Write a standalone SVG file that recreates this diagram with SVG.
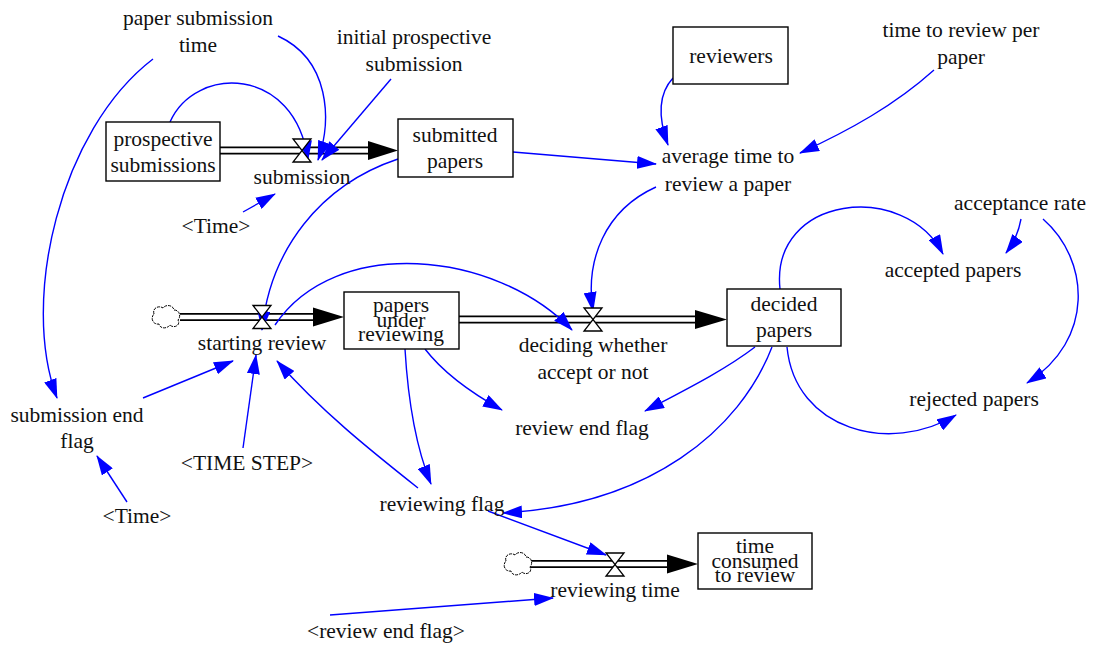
<svg xmlns="http://www.w3.org/2000/svg" xmlns:xlink="http://www.w3.org/1999/xlink" width="1094" height="645" viewBox="0 0 1094 645" font-family="'Liberation Serif', 'DejaVu Serif', serif">
<style>
text{font-family:'Liberation Serif','DejaVu Serif',serif;font-size:21.5px;fill:#111;text-anchor:middle}
.box{fill:#fff;stroke:#000;stroke-width:1.4}
.lk{fill:none;stroke:#0000ff;stroke-width:1.4;marker-end:url(#ah)}
.po{fill:none;stroke:#000;stroke-width:8}
.pi{fill:none;stroke:#fff;stroke-width:4.5}
.fh{fill:#000}
.valve{fill:#fff;stroke:#000;stroke-width:1.3}
.cloud{fill:#fff;stroke:#000;stroke-width:1;stroke-dasharray:3 1}
</style>
<defs>
<marker id="ah" markerUnits="userSpaceOnUse" markerWidth="20" markerHeight="13" refX="19" refY="6.5" orient="auto">
<path d="M0,0 L20,6.5 L0,13 Z" fill="#0000ff"/>
</marker>
<path id="valve" class="valve" d="M-9,-11.5 L9,-11.5 L-9,11.5 L9,11.5 Z"/>
<path id="cloud" class="cloud" d="M-12,-3 C-14,-9 -7,-12 -3,-9 C0,-13 7,-12 8,-7 C14,-7 15,0 12,3 C15,8 8,12 4,8 C1,12 -6,12 -7,7 C-13,8 -16,1 -12,-3 Z"/>
</defs>

<g id="connectors">
<!-- flow pipes -->
<line class="po" x1="220" y1="150.5" x2="370" y2="150.5"/><line class="pi" x1="220" y1="150.5" x2="370" y2="150.5"/>
<polygon class="fh" points="368,141 398,150.5 368,160"/>
<line class="po" x1="180" y1="317" x2="315" y2="317"/><line class="pi" x1="180" y1="317" x2="315" y2="317"/>
<polygon class="fh" points="313,307.5 344,317 313,326.5"/>
<line class="po" x1="459" y1="319.5" x2="697" y2="319.5"/><line class="pi" x1="459" y1="319.5" x2="697" y2="319.5"/>
<polygon class="fh" points="695,310 727,319.5 695,329"/>
<line class="po" x1="530" y1="564" x2="669" y2="564"/><line class="pi" x1="530" y1="564" x2="669" y2="564"/>
<polygon class="fh" points="667,554.5 698,564 667,573.5"/>
<!-- information links -->
<path class="lk" d="M170,122 C195,65 295,65 308,160"/>
<path class="lk" d="M278,36 C330,60 332,120 318,160"/>
<path class="lk" d="M391,79 L322,160"/>
<path class="lk" d="M243,212 L275,194"/>
<path class="lk" d="M153,59 C60,130 20,300 57,398"/>
<path class="lk" d="M673,78 C660,92 656,112 668,145"/>
<path class="lk" d="M934,70 C895,105 850,130 800,153"/>
<path class="lk" d="M513,152 L656,164"/>
<path class="lk" d="M656,187 C605,210 585,260 593,311"/>
<path class="lk" d="M398,159 C320,185 270,250 262,330"/>
<path class="lk" d="M275,325 C335,235 495,250 572,330"/>
<path class="lk" d="M425,349 C445,375 475,395 502,410"/>
<path class="lk" d="M405,349 C408,400 415,445 431,484"/>
<path class="lk" d="M755,347 C725,370 685,390 645,411"/>
<path class="lk" d="M772,347 C740,430 650,505 503,513"/>
<path class="lk" d="M780,289 C770,195 905,180 943,254"/>
<path class="lk" d="M1021,219 C1019,230 1016,240 1006,253"/>
<path class="lk" d="M1043,219 C1090,260 1095,340 1027,383"/>
<path class="lk" d="M787,347 C795,430 890,455 956,415"/>
<path class="lk" d="M143,398 L233,361"/>
<path class="lk" d="M243,448 L256,355"/>
<path class="lk" d="M418,488 C370,450 320,410 277,361"/>
<path class="lk" d="M127,502 L97,456"/>
<path class="lk" d="M488,511 L606,555"/>
<path class="lk" d="M330,615 L553,598"/>
</g>

<g id="prospective-submissions">
<rect class="box" x="106" y="122" width="114" height="59"/>
<text x="163" y="146">prospective</text><text x="163" y="172">submissions</text>
</g>
<g id="submission">
<use xlink:href="#valve" x="302" y="150.5"/>
<text x="302" y="184">submission</text>
</g>
<g id="submitted-papers">
<rect class="box" x="398" y="119" width="115" height="58"/>
<text x="455" y="142">submitted</text><text x="455" y="168">papers</text>
</g>
<g id="paper-submission-time"><text x="198" y="25">paper submission</text><text x="198" y="52">time</text></g>
<g id="initial-prospective-submission"><text x="414" y="44">initial prospective</text><text x="414" y="71">submission</text></g>
<g id="time-1"><text x="216" y="233">&lt;Time&gt;</text></g>
<g id="reviewers">
<rect class="box" x="673" y="27" width="115" height="57"/>
<text x="731" y="63">reviewers</text>
</g>
<g id="time-to-review-per-paper"><text x="961" y="37">time to review per</text><text x="961" y="64">paper</text></g>
<g id="average-time-to-review-a-paper"><text x="728" y="163">average time to</text><text x="728" y="191">review a paper</text></g>
<g id="acceptance-rate"><text x="1020" y="210">acceptance rate</text></g>
<g id="accepted-papers"><text x="953" y="277">accepted papers</text></g>
<g id="rejected-papers"><text x="974" y="406">rejected papers</text></g>
<g id="source-cloud-1"><use xlink:href="#cloud" x="166" y="317"/></g>
<g id="starting-review">
<use xlink:href="#valve" x="262" y="317"/>
<text x="262" y="350">starting review</text>
</g>
<g id="papers-under-reviewing">
<rect class="box" x="344" y="292" width="115" height="57"/>
<text x="401" y="312">papers</text><text x="401" y="327">under</text><text x="401" y="341">reviewing</text>
</g>
<g id="deciding-whether-accept-or-not">
<use xlink:href="#valve" x="593" y="319.5"/>
<text x="593" y="352">deciding whether</text><text x="593" y="379">accept or not</text>
</g>
<g id="decided-papers">
<rect class="box" x="727" y="289" width="114" height="57"/>
<text x="784" y="311">decided</text><text x="784" y="337">papers</text>
</g>
<g id="submission-end-flag"><text x="77" y="422">submission end</text><text x="77" y="448">flag</text></g>
<g id="time-step"><text x="247" y="470">&lt;TIME STEP&gt;</text></g>
<g id="time-2"><text x="137" y="523">&lt;Time&gt;</text></g>
<g id="review-end-flag"><text x="582" y="435">review end flag</text></g>
<g id="reviewing-flag"><text x="442" y="511">reviewing flag</text></g>
<g id="source-cloud-2"><use xlink:href="#cloud" x="518" y="564"/></g>
<g id="reviewing-time">
<use xlink:href="#valve" x="615" y="564.5"/>
<text x="615" y="597">reviewing time</text>
</g>
<g id="time-consumed-to-review">
<rect class="box" x="698" y="533" width="114" height="56"/>
<text x="755" y="553">time</text><text x="755" y="568">consumed</text><text x="755" y="582">to review</text>
</g>
<g id="review-end-flag-shadow"><text x="386" y="638">&lt;review end flag&gt;</text></g>
</svg>
